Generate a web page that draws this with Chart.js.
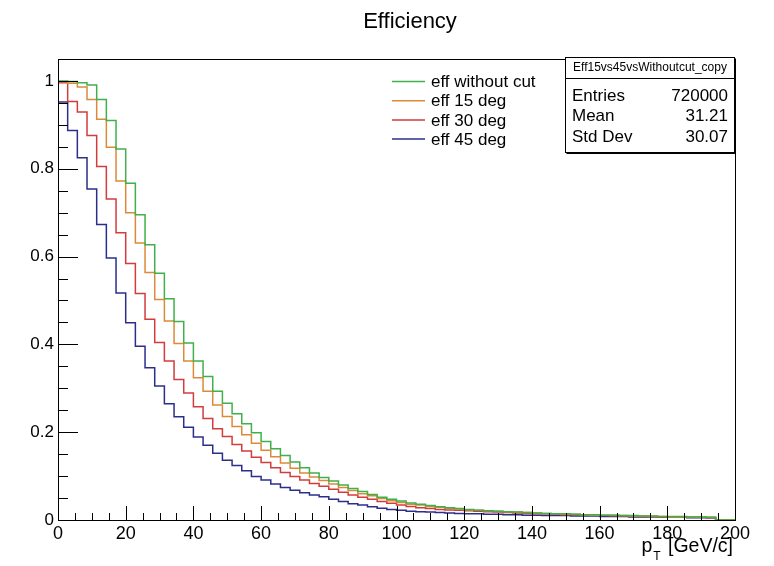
<!DOCTYPE html>
<html>
<head>
<meta charset="utf-8">
<script src="https://cdn.jsdelivr.net/npm/chart.js@4"></script>
<style>
  html, body { margin: 0; padding: 0; background: #fff; }
  #wrap { width: 774px; height: 566px; }
</style>
</head>
<body>
<div id="wrap"><canvas id="effChart" width="774" height="566"></canvas></div>
<script>
// histogram binning: 70 bins from 0 to 200 GeV/c
const xMin = 0, xMax = 200, nBins = 70;
const binEdges = Array.from({ length: nBins + 1 }, (_, i) => xMin + i * (xMax - xMin) / nBins);

// efficiency per bin
const effNoCut = [
  1.000, 1.000, 0.999, 0.996, 0.991, 0.958, 0.910, 0.845, 0.767, 0.695,
  0.627, 0.562, 0.504, 0.452, 0.403, 0.362, 0.327, 0.293, 0.266, 0.242,
  0.219, 0.199, 0.179, 0.162, 0.147, 0.132, 0.119, 0.107, 0.097, 0.089,
  0.080, 0.072, 0.065, 0.058, 0.052, 0.047, 0.043, 0.039, 0.036, 0.033,
  0.030, 0.028, 0.026, 0.024, 0.022, 0.021, 0.020, 0.019, 0.018, 0.017,
  0.016, 0.015, 0.014, 0.014, 0.013, 0.012, 0.012, 0.011, 0.011, 0.010,
  0.010, 0.009, 0.009, 0.008, 0.008, 0.008, 0.007, 0.007, 0.006, 0.000
];
const eff15 = [
  1.000, 0.998, 0.995, 0.986, 0.958, 0.913, 0.849, 0.772, 0.700, 0.631,
  0.564, 0.502, 0.453, 0.402, 0.362, 0.324, 0.293, 0.262, 0.236, 0.213,
  0.194, 0.175, 0.159, 0.144, 0.130, 0.118, 0.107, 0.098, 0.090, 0.082,
  0.074, 0.067, 0.060, 0.055, 0.049, 0.044, 0.040, 0.036, 0.034, 0.031,
  0.029, 0.027, 0.025, 0.023, 0.022, 0.021, 0.020, 0.019, 0.018, 0.017,
  0.016, 0.015, 0.014, 0.013, 0.013, 0.012, 0.011, 0.011, 0.010, 0.010,
  0.009, 0.009, 0.008, 0.008, 0.007, 0.007, 0.007, 0.006, 0.006, 0.000
];
const eff30 = [
  1.000, 0.996, 0.953, 0.929, 0.876, 0.805, 0.731, 0.654, 0.584, 0.516,
  0.457, 0.404, 0.362, 0.320, 0.289, 0.258, 0.231, 0.208, 0.190, 0.172,
  0.157, 0.143, 0.131, 0.119, 0.108, 0.099, 0.091, 0.083, 0.077, 0.070,
  0.063, 0.057, 0.052, 0.047, 0.042, 0.038, 0.034, 0.031, 0.028, 0.026,
  0.024, 0.023, 0.022, 0.021, 0.020, 0.019, 0.018, 0.017, 0.016, 0.015,
  0.014, 0.014, 0.013, 0.012, 0.012, 0.011, 0.011, 0.010, 0.010, 0.009,
  0.009, 0.008, 0.008, 0.007, 0.007, 0.007, 0.006, 0.006, 0.005, 0.000
];
const eff45 = [
  1.000, 0.952, 0.887, 0.825, 0.754, 0.673, 0.597, 0.517, 0.449, 0.396,
  0.347, 0.305, 0.265, 0.235, 0.211, 0.189, 0.170, 0.152, 0.136, 0.124,
  0.112, 0.099, 0.091, 0.082, 0.074, 0.068, 0.062, 0.057, 0.053, 0.047,
  0.042, 0.037, 0.034, 0.030, 0.027, 0.024, 0.022, 0.020, 0.019, 0.018,
  0.017, 0.016, 0.015, 0.014, 0.014, 0.013, 0.013, 0.012, 0.012, 0.011,
  0.011, 0.010, 0.010, 0.010, 0.009, 0.009, 0.009, 0.008, 0.008, 0.008,
  0.007, 0.007, 0.007, 0.006, 0.006, 0.006, 0.005, 0.005, 0.005, 0.000
];

const seriesLabels = ['eff without cut', 'eff 15 deg', 'eff 30 deg', 'eff 45 deg'];
const seriesColors = ['#41b04a', '#dc8a3a', '#d23c3c', '#2c2f8a'];

const xTicks = [0, 20, 40, 60, 80, 100, 120, 140, 160, 180, 200];
const yTicks = [0, 0.2, 0.4, 0.6, 0.8, 1];

const chartTitle = 'Efficiency';
const statsName = 'Eff15vs45vsWithoutcut_copy';
const statsRows = [['Entries', '720000'], ['Mean', '31.21'], ['Std Dev', '30.07']];

const FONT = "'Liberation Sans', Arial, Helvetica, sans-serif";

// turn bin contents into step points (lower edges + closing edge)
function toSteps(values) {
    const pts = values.map((v, i) => ({ x: binEdges[i], y: v }));
    pts.push({ x: binEdges[nBins], y: values[nBins - 1] });
    return pts;
}

// ROOT-like frame, inner ticks, title, legend, stats box
const rootStyle = {
    id: 'rootStyle',
    afterDraw(chart) {
        const ctx = chart.ctx;
        const a = chart.chartArea;
        const sx = chart.scales.x, sy = chart.scales.y;
        ctx.save();
        ctx.strokeStyle = '#000';
        ctx.lineWidth = 1;

        // frame
        ctx.strokeRect(Math.round(a.left) + 0.5, Math.round(a.top) + 0.5,
            Math.round(a.right - a.left), Math.round(a.bottom - a.top));

        // x ticks (inside, from bottom axis)
        ctx.beginPath();
        for (let v = xMin; v <= xMax + 1e-6; v += 5) {
            const px = Math.round(sx.getPixelForValue(v)) + 0.5;
            const len = (v % 20 === 0) ? 14 : 7;
            ctx.moveTo(px, a.bottom);
            ctx.lineTo(px, a.bottom - len);
        }
        // y ticks (inside, from left axis)
        for (let i = 0; i <= 21; i++) {
            const v = i * 0.05;
            const py = Math.round(sy.getPixelForValue(v)) + 0.5;
            const len = (i % 4 === 0) ? 20 : 10;
            ctx.moveTo(a.left, py);
            ctx.lineTo(a.left + len, py);
        }
        ctx.stroke();

        // title
        ctx.fillStyle = '#000';
        ctx.font = '22px ' + FONT;
        ctx.textAlign = 'center';
        ctx.textBaseline = 'alphabetic';
        ctx.fillText(chartTitle, 410, 28);

        // axis title p_T [GeV/c], right aligned to the frame
        ctx.font = '19.5px ' + FONT;
        const rest = ' [GeV/c]';
        const wRest = ctx.measureText(rest).width;
        let xr = 733 - wRest;
        ctx.textAlign = 'left';
        ctx.fillText(rest, xr, 552);
        ctx.font = '12px ' + FONT;
        const wT = ctx.measureText('T').width;
        xr -= wT + 2;
        ctx.fillText('T', xr, 560);
        ctx.font = '19.5px ' + FONT;
        const wP = ctx.measureText('p').width;
        ctx.fillText('p', xr - wP - 1, 552);

        // legend
        ctx.font = '17px ' + FONT;
        ctx.textBaseline = 'middle';
        chart.data.datasets.forEach((ds, i) => {
            const y = 81.5 + i * 19.2;
            ctx.strokeStyle = ds.borderColor;
            ctx.lineWidth = 1.5;
            ctx.beginPath();
            ctx.moveTo(392, y);
            ctx.lineTo(425, y);
            ctx.stroke();
            ctx.fillStyle = '#000';
            ctx.fillText(ds.label, 431, y + 1);
        });

        // stats box
        const bx = 565.5, by = 57.5, bw = 169, bh = 95;
        ctx.fillStyle = '#fff';
        ctx.fillRect(bx, by, bw, bh);
        ctx.strokeStyle = '#000';
        ctx.lineWidth = 1;
        ctx.strokeRect(bx, by, bw, bh);
        ctx.beginPath();
        ctx.moveTo(bx + 1, by + bh + 1);
        ctx.lineTo(bx + bw + 1, by + bh + 1);
        ctx.lineTo(bx + bw + 1, by + 1);
        ctx.stroke();
        ctx.beginPath();
        ctx.moveTo(bx, 78.5);
        ctx.lineTo(bx + bw, 78.5);
        ctx.stroke();
        ctx.fillStyle = '#000';
        ctx.font = '12px ' + FONT;
        ctx.textAlign = 'center';
        ctx.fillText(statsName, bx + bw / 2, 68);
        ctx.font = '17px ' + FONT;
        statsRows.forEach((row, i) => {
            const y = 96.5 + i * 20.3;
            ctx.textAlign = 'left';
            ctx.fillText(row[0], 572, y);
            ctx.textAlign = 'right';
            ctx.fillText(row[1], 728, y);
        });
        ctx.restore();
    }
};

const ctx = document.getElementById('effChart').getContext('2d');
const effChart = new Chart(ctx, {
    type: 'line',
    data: {
        datasets: [effNoCut, eff15, eff30, eff45].map((vals, i) => ({
            label: seriesLabels[i],
            data: toSteps(vals),
            borderColor: seriesColors[i],
            borderWidth: 1.5,
            stepped: 'after',
            pointRadius: 0,
            fill: false,
            tension: 0
        }))
    },
    options: {
        responsive: false,
        animation: false,
        events: [],
        layout: { padding: { left: 0, right: 39, top: 59, bottom: 0 } },
        plugins: {
            legend: { display: false },
            title: { display: false },
            tooltip: { enabled: false }
        },
        scales: {
            x: {
                type: 'linear',
                min: xMin,
                max: xMax,
                grid: { display: false, drawTicks: false },
                border: { display: false },
                afterBuildTicks: (scale) => { scale.ticks = xTicks.map(v => ({ value: v })); },
                afterFit: (scale) => { scale.height = 46; },
                ticks: {
                    padding: 3,
                    maxRotation: 0,
                    autoSkip: false,
                    color: '#000',
                    font: { family: FONT, size: 18 },
                    callback: (v) => String(v)
                }
            },
            y: {
                type: 'linear',
                min: 0,
                max: 1.05,
                grid: { display: false, drawTicks: false },
                border: { display: false },
                afterBuildTicks: (scale) => { scale.ticks = yTicks.map(v => ({ value: v })); },
                afterFit: (scale) => { scale.width = 58; },
                ticks: {
                    padding: 4,
                    autoSkip: false,
                    color: '#000',
                    font: { family: FONT, size: 17 },
                    callback: (v) => String(+Number(v).toFixed(2))
                }
            }
        }
    },
    plugins: [rootStyle]
});
</script>
</body>
</html>
